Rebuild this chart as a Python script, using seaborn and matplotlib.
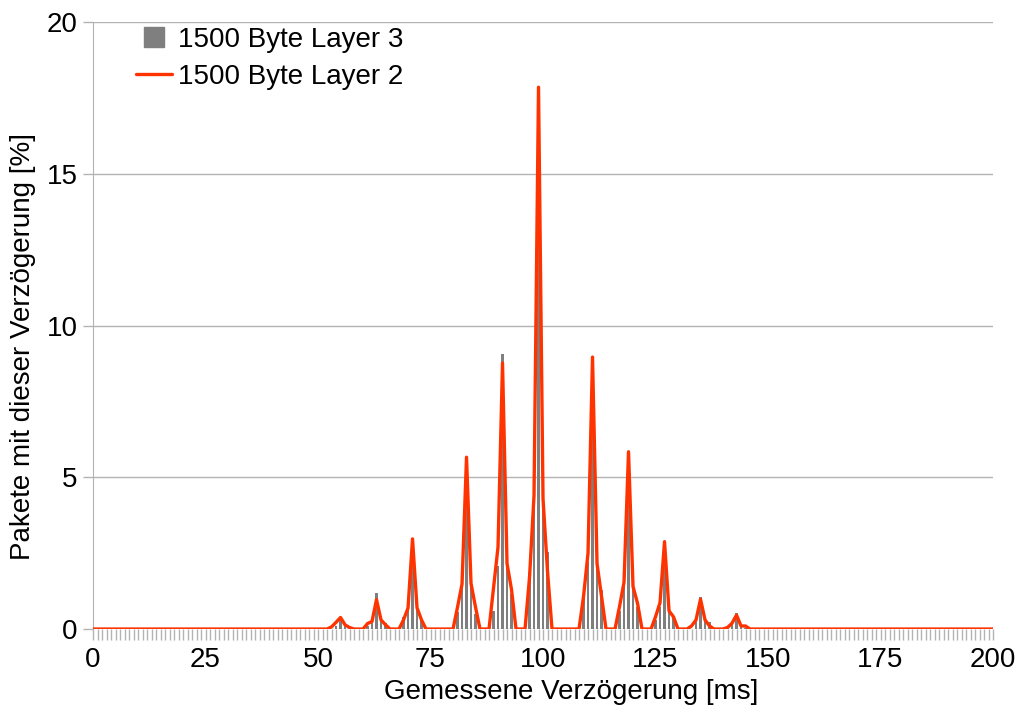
import numpy as np
import matplotlib
matplotlib.use("Agg")
import matplotlib.pyplot as plt
import seaborn as sns
from matplotlib.lines import Line2D

# Messwerte (nur Stellen != 0, Rest ist 0)
delay_ms = list(range(0, 201))

layer3_ms = [54, 55, 56, 57,
             61, 62, 63, 64, 65, 66,
             69, 70, 71, 72, 73,
             81, 82, 83, 84, 85,
             89, 90, 91, 92, 93,
             97, 98, 99, 100, 101, 102,
             109, 110, 111, 112, 113,
             117, 118, 119, 120, 121,
             125, 126, 127, 128, 129,
             134, 135, 136, 137,
             142, 143, 144, 145]
layer3_pct = [0.1, 0.3, 0.15, 0.05,
              0.1, 0.25, 1.18, 0.35, 0.2, 0.05,
              0.4, 0.75, 3.0, 0.85, 0.3,
              0.55, 1.45, 5.5, 1.8, 0.5,
              0.6, 2.08, 9.05, 2.88, 1.15,
              1.86, 4.09, 17.6, 4.8, 2.55, 0.2,
              1.1, 2.2, 8.8, 2.55, 1.29,
              0.6, 1.5, 5.7, 1.92, 0.74,
              0.3, 0.74, 2.8, 1.0, 0.4,
              0.25, 1.04, 0.38, 0.24,
              0.15, 0.54, 0.13, 0.05]

layer2_ms = [53, 54, 55, 56, 57,
             61, 62, 63, 64, 65,
             69, 70, 71, 72, 73,
             81, 82, 83, 84, 85,
             89, 90, 91, 92, 93,
             97, 98, 99, 100, 101,
             109, 110, 111, 112, 113,
             117, 118, 119, 120, 121,
             125, 126, 127, 128, 129,
             133, 134, 135, 136, 137,
             141, 142, 143, 144, 145]
layer2_pct = [0.07, 0.22, 0.38, 0.14, 0.05,
              0.18, 0.25, 0.97, 0.3, 0.14,
              0.3, 0.69, 2.97, 0.7, 0.3,
              0.72, 1.48, 5.66, 1.5, 0.72,
              1.35, 2.7, 8.76, 2.16, 1.3,
              1.7, 4.4, 17.85, 4.3, 1.9,
              1.07, 2.5, 8.96, 2.16, 1.07,
              0.74, 1.54, 5.84, 1.4, 0.85,
              0.4, 0.87, 2.88, 0.6, 0.4,
              0.1, 0.3, 0.98, 0.3, 0.1,
              0.05, 0.19, 0.46, 0.1, 0.1]

layer3 = np.zeros(len(delay_ms))
layer3[layer3_ms] = layer3_pct
layer2 = np.zeros(len(delay_ms))
layer2[layer2_ms] = layer2_pct

sns.set_style("white")
plt.rcParams['font.family'] = ['Liberation Sans', 'DejaVu Sans']
plt.rcParams['text.color'] = 'black'
plt.rcParams['axes.labelcolor'] = 'black'
plt.rcParams['xtick.labelcolor'] = 'black'
plt.rcParams['ytick.labelcolor'] = 'black'

fig = plt.figure(figsize=(10.21, 7.09), dpi=100)
ax = fig.add_axes([0.0911, 0.1128, 0.8815, 0.8562])

grey = '#b3b3b3'
sns.barplot(x=delay_ms, y=layer3, native_scale=True, color='#7f7f7f',
            width=0.62, saturation=1, linewidth=0, ax=ax, zorder=2)
sns.lineplot(x=delay_ms, y=layer2, color='#ff3300', linewidth=2.4, ax=ax, zorder=3)

ax.set_xlim(0, 200)
ax.set_ylim(0, 20)
ax.set_xticks(range(0, 201, 25))
ax.set_xticks(delay_ms, minor=True)
ax.set_yticks(range(0, 21, 5))
ax.yaxis.grid(True, color=grey, linewidth=1)
ax.set_axisbelow(True)

for s in ['top', 'right', 'bottom']:
    ax.spines[s].set_visible(False)
ax.spines['left'].set_color(grey)

ax.tick_params(axis='x', which='both', direction='out', length=8, width=1,
               color=grey, labelsize=20, pad=5, bottom=True)
ax.tick_params(axis='y', direction='out', length=7, width=1, color=grey,
               labelsize=20, pad=4, left=True)

ax.set_xlabel('Gemessene Verzögerung [ms]', fontsize=20, labelpad=5)
ax.xaxis.set_label_coords(0.531, -0.083)
ax.set_ylabel('Pakete mit dieser Verzögerung [%]', fontsize=20)
ax.yaxis.set_label_coords(-0.063, 0.465)

handles = [Line2D([], [], marker='s', color='#7f7f7f', linestyle='none', markersize=15),
           Line2D([], [], color='#ff3300', linewidth=2.4)]
ax.legend(handles, ['1500 Byte Layer 3', '1500 Byte Layer 2'],
          loc='upper left', bbox_to_anchor=(0.02, 1.033), frameon=False,
          fontsize=20, handlelength=1.3, handletextpad=0.2, labelspacing=0.4)

fig.savefig('out.png', dpi=100)
